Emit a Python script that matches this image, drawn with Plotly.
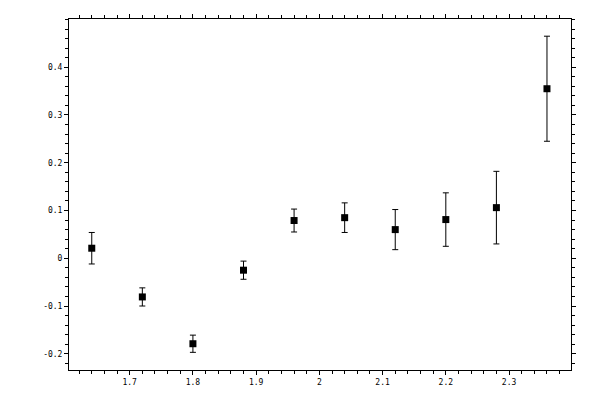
import plotly.graph_objects as go

x_vals = [1.64, 1.72, 1.80, 1.88, 1.96, 2.04, 2.12, 2.20, 2.28, 2.36]
y_vals = [0.021, -0.081, -0.179, -0.025, 0.079, 0.085, 0.060, 0.081, 0.106, 0.355]
y_err = [0.033, 0.019, 0.018, 0.019, 0.024, 0.031, 0.042, 0.056, 0.076, 0.110]

x_ticks = [1.7, 1.8, 1.9, 2.0, 2.1, 2.2, 2.3]
x_ticklabels = ["1.7", "1.8", "1.9", "2", "2.1", "2.2", "2.3"]
y_ticks = [-0.2, -0.1, 0.0, 0.1, 0.2, 0.3, 0.4]
y_ticklabels = ["-0.2", "-0.1", "0", "0.1", "0.2", "0.3", "0.4"]

x_range = [1.604, 2.398]
y_range = [-0.234, 0.501]

fig = go.Figure()
fig.add_trace(go.Scatter(
    x=x_vals, y=y_vals, mode="markers",
    marker=dict(symbol="square", size=7, color="black", line=dict(width=0)),
    error_y=dict(type="data", array=y_err, visible=True, color="black",
                 thickness=1, width=3),
    showlegend=False,
))

tickfont = dict(family="DejaVu Sans Mono", size=8, color="black")

common_x = dict(range=x_range, showgrid=False, zeroline=False, automargin=False,
                tickmode="array", tickvals=x_ticks, ticktext=x_ticklabels)
common_y = dict(range=y_range, showgrid=False, zeroline=False, automargin=False,
                tickmode="array", tickvals=y_ticks, ticktext=y_ticklabels)

fig.update_layout(
    width=600, height=400,
    margin=dict(l=61, r=37, t=11, b=38),
    paper_bgcolor="white", plot_bgcolor="white",
    xaxis=dict(**common_x, showline=True, linecolor="black", linewidth=1,
               mirror="allticks", ticks="outside", ticklen=4, tickwidth=1,
               tickcolor="black", tickfont=tickfont,
               minor=dict(tickmode="linear", tick0=1.6, dtick=0.02, ticks="outside",
                          ticklen=3, tickwidth=1, tickcolor="black")),
    xaxis2=dict(**common_x, overlaying="x", anchor="y", side="bottom",
                showline=False, mirror="allticks", ticks="inside", ticklen=4,
                tickwidth=1, tickcolor="black", showticklabels=False),
    yaxis=dict(**common_y, showline=True, linecolor="black", linewidth=1,
               mirror="allticks", ticks="outside", ticklen=4, tickwidth=1,
               tickcolor="black", tickfont=tickfont,
               minor=dict(tickmode="linear", tick0=-0.3, dtick=0.02, ticks="outside",
                          ticklen=3, tickwidth=1, tickcolor="black")),
    yaxis2=dict(**common_y, overlaying="y", anchor="x", side="left",
                showline=False, mirror="allticks", ticks="inside", ticklen=4,
                tickwidth=1, tickcolor="black", showticklabels=False),
)

fig.write_html("out.html")
